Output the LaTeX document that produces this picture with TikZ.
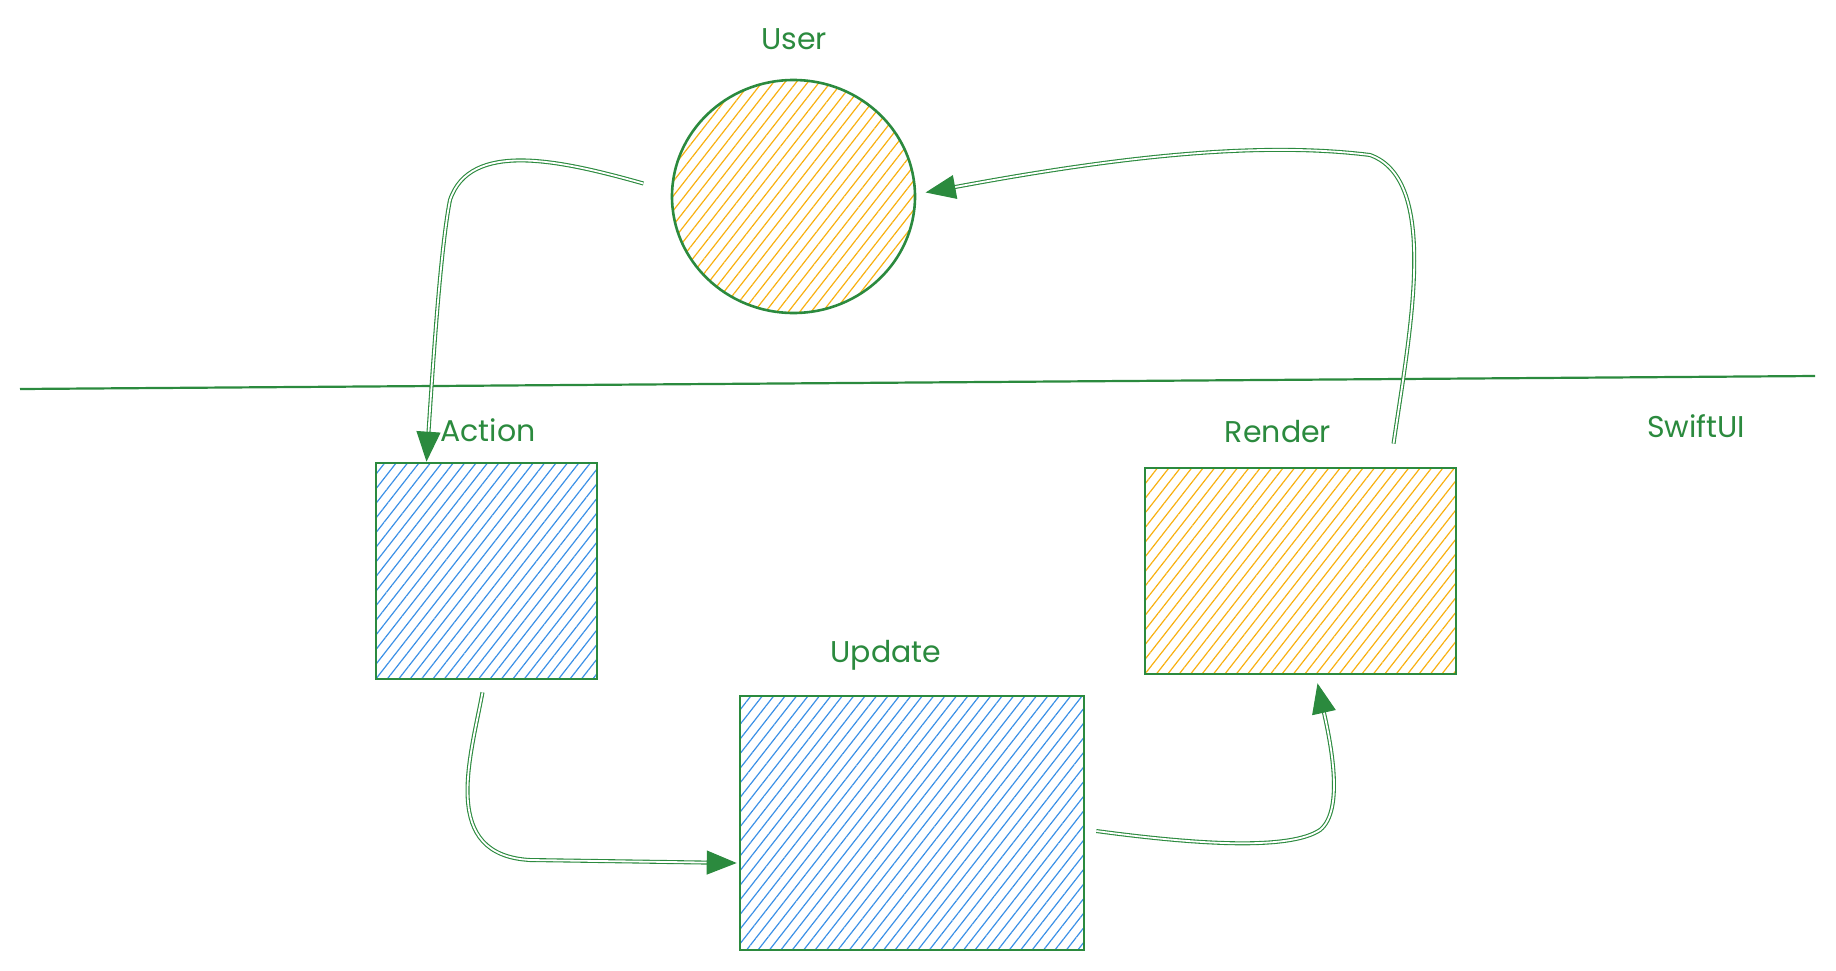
\documentclass[tikz,border=0pt]{standalone}
\usepackage{fontspec}
\setmainfont{Poppins}
\usetikzlibrary{shapes.geometric,arrows.meta,patterns.meta}
\definecolor{swgreen}{HTML}{2B8A3E}
\definecolor{hatchblue}{HTML}{3B90E6}
\definecolor{hatchyellow}{HTML}{F8B010}
\begin{document}
\begin{tikzpicture}
  [x=0.5pt,y=-0.5pt,every node/.style={text=swgreen,font=\fontsize{15}{18}\selectfont}]
  \tikzstyle{box} = [draw=swgreen,line width=1.3pt,inner sep=0pt]
  \tikzstyle{bluefill} = [pattern={Lines[angle=52,distance=4.5pt,line width=0.6pt]},pattern color=hatchblue]
  \tikzstyle{yellowfill} = [pattern={Lines[angle=52,distance=4.5pt,line width=0.6pt]},pattern color=hatchyellow]
  \tikzstyle{link} = [draw=swgreen,double=white,double distance=0.9pt,line width=0.55pt,-{Triangle[length=15pt,width=12pt]}]
  \useasboundingbox (0,0) rectangle (1836,970);
  % shapes
  \node[box,yellowfill,ellipse,minimum width=121.5pt,minimum height=116.5pt] (user) at (793.5,196.5) {};
  \node[box,bluefill,minimum width=110.5pt,minimum height=108pt] (action) at (486.5,571) {};
  \node[box,bluefill,minimum width=172pt,minimum height=127pt] (update) at (912,823) {};
  \node[box,yellowfill,minimum width=155.5pt,minimum height=103pt] (render) at (1300.5,571) {};
  % labels
  \node (userlabel) at (794,39) {User};
  \node (actionlabel) at (488,430) {Action};
  \node (updatelabel) at (886,655) {Update};
  \node (renderlabel) at (1278,432) {Render};
  \node (swiftlabel) at (1696,426) {SwiftUI};
  % boundary
  \draw[swgreen,line width=1.1pt] (20,389) -- (1815,376);
  % arrows
  \draw[link] ([shift={(-28,-13)}]user.west) .. controls (560,160) and (470,140) .. (450,200)
    .. controls (440,250) and (432,380) .. ([shift={(-60,0)}]action.north);
  \draw[link] ([shift={(-4,12)}]action.south) .. controls (470,760) and (440,855) .. (530,860)
    -- ([shift={(-2,40)}]update.west);
  \draw[link] ([shift={(11,8)}]update.east) .. controls (1200,845) and (1290,850) .. (1320,830)
    .. controls (1345,810) and (1330,740) .. ([shift={(17,8)}]render.south);
  \draw[link] ([shift={(93,-23)}]render.north) .. controls (1410,330) and (1440,180) .. (1370,155)
    .. controls (1250,140) and (1100,160) .. ([shift={(10,-4)}]user.east);
\end{tikzpicture}
\end{document}
